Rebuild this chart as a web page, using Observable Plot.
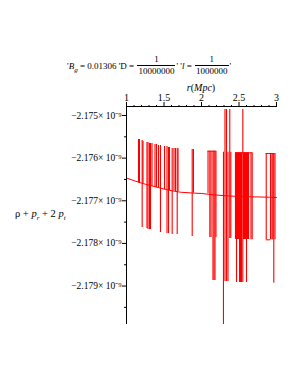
<!DOCTYPE html>
<html>
<head>
<meta charset="utf-8">
<script src="https://cdn.jsdelivr.net/npm/d3@7"></script>
<script src="https://cdn.jsdelivr.net/npm/@observablehq/plot@0.6"></script>
<style>
  html, body { margin: 0; padding: 0; background: #fff; }
  #wrap { position: relative; width: 300px; height: 388px; font-family: "Liberation Serif", "DejaVu Serif", serif; color: #000; }
  #chart { position: absolute; left: 0; top: 0; }
  .abs { position: absolute; white-space: nowrap; }
  .frac { display: inline-flex; flex-direction: column; align-items: center; vertical-align: middle; margin: 0 1px; }
  .frac .num { padding: 0 1px 1px; line-height: 9px; }
  .frac .den { border-top: 1px solid #000; padding: 1px 1px 0; line-height: 9px; }
  sub { font-size: 7px; vertical-align: -3px; line-height: 0; }
</style>
</head>
<body>
<div id="wrap">
  <div id="chart"></div>
  <div class="abs" id="title" style="left:67px; top:55px; font-size:9px; display:flex; align-items:center;">
    <span>'<i>B</i><sub><i>g</i></sub>&nbsp;= 0.01306 'D =&nbsp;</span>
    <span class="frac"><span class="num">1</span><span class="den">10000000</span></span>
    <span>'&nbsp;'<i>l</i> =&nbsp;</span>
    <span class="frac"><span class="num">1</span><span class="den">1000000</span></span>
    <span>'</span>
  </div>
  <div class="abs" style="left:201px; top:82px; font-size:10px; transform:translateX(-50%);"><i>r</i>(<i>Mpc</i>)</div>
  <div class="abs" style="left:15px; top:208px; font-size:10.5px;">ρ + <i>p</i><sub><i>r</i></sub> + 2 <i>p</i><sub><i>t</i></sub></div>
</div>
<script>
// x: r (Mpc); y values in units of 1e-9
const xMajorTicks = [1, 1.5, 2, 2.5, 3];
const xMinorTicks = [1.1, 1.2, 1.3, 1.4, 1.6, 1.7, 1.8, 1.9, 2.1, 2.2, 2.3, 2.4, 2.6, 2.7, 2.8, 2.9];
const yMajorTicks = [-2.175, -2.176, -2.177, -2.178, -2.179];
const yMinorTicks = [-2.1755, -2.1765, -2.1775, -2.1785, -2.1795];

// smooth base curve
const curveR = [1, 1.25, 1.32, 1.5, 1.72, 2, 2.16, 2.5, 2.9, 3];
const curveV = [-2.176466, -2.176611, -2.176642, -2.176724, -2.176799, -2.176829, -2.176860, -2.176899, -2.176916, -2.176923];

// vertical spikes (numerical noise): position, upper and lower value
const spikeR = [
  1.160, 1.173, 1.209, 1.220, 1.273, 1.287, 1.307, 1.320, 1.340, 1.380, 1.400, 1.427, 1.453,
  1.507, 1.540, 1.560, 1.573, 1.609, 1.633, 1.653, 1.676, 1.687, 1.876, 1.893,
  2.087, 2.111, 2.127, 2.153, 2.167, 2.180, 2.193,
  2.293, 2.313, 2.333, 2.353, 2.377, 2.391,
  2.453, 2.467, 2.480, 2.493, 2.507, 2.520, 2.533, 2.551, 2.560, 2.573, 2.587, 2.600, 2.613, 2.627, 2.660, 2.676,
  2.863, 2.920, 2.940, 2.953, 2.964, 2.980
];
const spikeTop = [
  -2.175563, -2.175563, -2.175586, -2.175610, -2.175633, -2.175633, -2.175657, -2.175657, -2.175657, -2.175680, -2.175680, -2.175704, -2.175704,
  -2.175727, -2.175727, -2.175750, -2.175750, -2.175774, -2.175774, -2.175774, -2.175774, -2.175780, -2.175797, -2.175797,
  -2.175837, -2.175837, -2.175837, -2.175837, -2.175837, -2.175837, -2.175837,
  -2.175861, -2.174859, -2.174859, -2.175861, -2.174859, -2.175861,
  -2.175875, -2.175875, -2.175875, -2.175875, -2.175875, -2.175875, -2.175875, -2.174859, -2.175875, -2.175875, -2.175875, -2.175875, -2.175875, -2.175875, -2.175875, -2.175875,
  -2.175891, -2.175891, -2.175891, -2.175891, -2.175891, -2.175891
];
const spikeBottom = [
  -2.176580, -2.176590, -2.177626, -2.176600, -2.177650, -2.177673, -2.177673, -2.177673, -2.176665, -2.176688, -2.176688, -2.176700, -2.177744,
  -2.176735, -2.177767, -2.177767, -2.176759, -2.177791, -2.176770, -2.176782, -2.177791, -2.176782, -2.177837, -2.176820,
  -2.176835, -2.177861, -2.177861, -2.178869, -2.178869, -2.178869, -2.177861,
  -2.179901, -2.178893, -2.178893, -2.178893, -2.177884, -2.177884,
  -2.177908, -2.178916, -2.177908, -2.177908, -2.178916, -2.178916, -2.178916, -2.178916, -2.177908, -2.177908, -2.177908, -2.178916, -2.177908, -2.177908, -2.177915, -2.177915,
  -2.177915, -2.177915, -2.177915, -2.177915, -2.178932, -2.177915
];

// horizontal connecting segments at block edges
const hsegV = [-2.175837, -2.175875, -2.175891, -2.177915];
const hsegR1 = [2.087, 2.453, 2.863, 2.863];
const hsegR2 = [2.193, 2.676, 2.980, 2.920];

const curve = curveR.map((r, i) => ({r, v: curveV[i]}));
const spikes = spikeR.map((r, i) => ({r, top: spikeTop[i], bottom: spikeBottom[i]}));
const hsegs = hsegV.map((v, i) => ({v, r1: hsegR1[i], r2: hsegR2[i]}));

const fmt = d => "\u2212" + Math.abs(d).toFixed(3) + "\u00d7 10\u207b\u2079";
const red = "#ff0000";

const chart = Plot.plot({
  width: 300,
  height: 388,
  marginTop: 106,
  marginLeft: 126,
  marginRight: 24,
  marginBottom: 64,
  style: { fontFamily: "'Liberation Serif', serif", fontSize: "9.5px", background: "transparent", overflow: "visible" },
  x: { domain: [1, 3] },
  y: { domain: [-2.179901, -2.174789] },
  marks: [
    Plot.ruleX(spikes, { x: "r", y1: "top", y2: "bottom", stroke: red, strokeWidth: 1.1 }),
    Plot.ruleY(hsegs, { y: "v", x1: "r1", x2: "r2", stroke: red, strokeWidth: 1 }),
    Plot.line(curve, { x: "r", y: "v", stroke: red, strokeWidth: 1, curve: "monotone-x" }),
    Plot.axisX({ anchor: "top", ticks: xMajorTicks, tickSize: 5, tickPadding: 1, tickFormat: d => String(d), label: null, fontSize: 10 }),
    Plot.axisX({ anchor: "top", ticks: xMinorTicks, tickSize: 2, tickFormat: null, text: null, label: null }),
    Plot.axisY({ anchor: "left", ticks: yMajorTicks, tickSize: 4, tickPadding: 1, tickFormat: fmt, label: null }),
    Plot.axisY({ anchor: "left", ticks: yMinorTicks, tickSize: 2, text: null, label: null }),
    Plot.ruleY([-2.174789], { stroke: "#000", strokeWidth: 1 }),
    Plot.ruleX([1], { stroke: "#000", strokeWidth: 1 })
  ]
});
document.getElementById("chart").appendChild(chart);
</script>
</body>
</html>
